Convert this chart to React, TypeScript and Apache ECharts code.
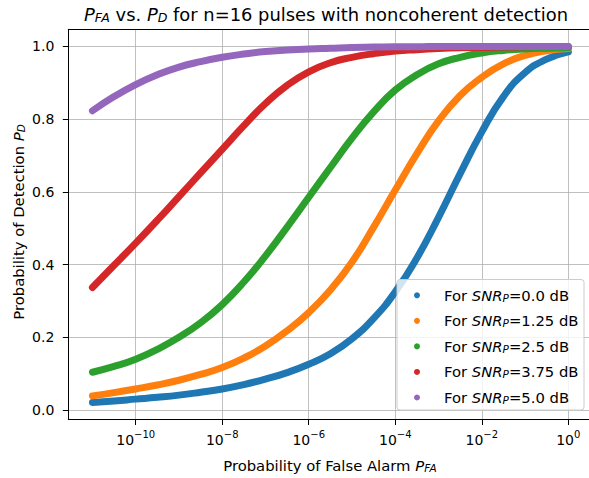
import React, { useEffect, useRef } from "react";
import * as echarts from "echarts";

// log10 of the probability of false alarm (P_FA = 10^x)
const pfaExp = [-11, -10.5, -10, -9.5, -9, -8.5, -8, -7.5, -7, -6.5, -6, -5.5, -5, -4.5, -4, -3.5, -3, -2.5, -2, -1.5, -1, -0.5, 0];

const snrDb = [0.0, 1.25, 2.5, 3.75, 5.0];

const pdSnr0 = [0.021, 0.025, 0.030, 0.035, 0.041, 0.049, 0.058, 0.070, 0.085, 0.103, 0.126, 0.155, 0.196, 0.252, 0.325, 0.418, 0.530, 0.650, 0.765, 0.862, 0.928, 0.965, 0.985];
const pdSnr125 = [0.039, 0.048, 0.058, 0.069, 0.082, 0.098, 0.117, 0.143, 0.176, 0.218, 0.268, 0.330, 0.407, 0.503, 0.605, 0.705, 0.795, 0.865, 0.915, 0.952, 0.975, 0.988, 0.994];
const pdSnr25 = [0.104, 0.120, 0.140, 0.167, 0.200, 0.240, 0.290, 0.352, 0.424, 0.503, 0.585, 0.667, 0.748, 0.820, 0.880, 0.922, 0.952, 0.970, 0.982, 0.989, 0.993, 0.995, 0.996];
const pdSnr375 = [0.337, 0.398, 0.459, 0.522, 0.587, 0.652, 0.717, 0.782, 0.843, 0.893, 0.930, 0.955, 0.970, 0.980, 0.987, 0.991, 0.994, 0.996, 0.997, 0.998, 0.999, 1.0, 1.0];
const pdSnr5 = [0.823, 0.862, 0.895, 0.922, 0.943, 0.958, 0.970, 0.979, 0.986, 0.990, 0.993, 0.995, 0.997, 0.998, 0.999, 0.999, 1.0, 1.0, 1.0, 1.0, 1.0, 1.0, 1.0];

const pdSeries = [pdSnr0, pdSnr125, pdSnr25, pdSnr375, pdSnr5];
const colors = ["#1f77b4", "#ff7f0e", "#2ca02c", "#d62728", "#9467bd"];

const xTickExps = [-10, -8, -6, -4, -2, 0];
const yTicks = [0.0, 0.2, 0.4, 0.6, 0.8, 1.0];

const FONT = "DejaVu Sans";
const FS = 14.8;
const FS_SUB = 10.5;

function snrLabel(v: number) {
  return Number.isInteger(v) ? v.toFixed(1) : String(v);
}

export default function App() {
  const ref = useRef<HTMLDivElement>(null);

  useEffect(() => {
    if (!ref.current) return;
    const chart = echarts.init(ref.current, null, { renderer: "svg" });
    const names = snrDb.map((s) => `For SNR_P=${snrLabel(s)} dB`);

    const series = pdSeries.map((pd, k) => ({
      name: names[k],
      type: "line",
      data: pfaExp.map((x, i) => [x, pd[i]]),
      showSymbol: false,
      symbol: "circle",
      smooth: 0.5,
      color: colors[k],
      lineStyle: { width: 7, color: colors[k], cap: "round", join: "round" },
      itemStyle: { color: colors[k] },
      z: 2 + k * 0.01,
    }));

    const xMin = -11.558;
    const xMax = 0.55;

    chart.setOption({
      animation: false,
      grid: {
        left: 68.3,
        right: -3.1,
        top: 29.3,
        bottom: 58.5,
        containLabel: false,
        outerBoundsMode: "none",
      },
      xAxis: [
        {
          type: "value",
          min: xMin,
          max: xMax,
          position: "bottom",
          axisLine: { show: true, onZero: false, lineStyle: { color: "#000", width: 1 } },
          axisTick: { show: true, length: 5.5, customValues: xTickExps, lineStyle: { color: "#000", width: 1 } },
          axisLabel: {
            show: true,
            customValues: xTickExps,
            margin: 12,
            color: "#000",
            fontFamily: FONT,
            formatter: (v: number) =>
              `{b|10}{s|${v === 0 ? "0" : "\u2212" + Math.abs(v)}}`,
            rich: {
              b: { fontSize: 14, fontFamily: FONT, color: "#000", lineHeight: 16 },
              s: { fontSize: 10, fontFamily: FONT, color: "#000", lineHeight: 12, padding: [0, 0, 10.5, 0] },
            },
          },
          splitLine: { show: true, lineStyle: { color: "#b0b0b0", width: 0.8 } },
        },
        {
          type: "value",
          min: xMin,
          max: xMax,
          position: "top",
          axisLine: { show: true, onZero: false, lineStyle: { color: "#000", width: 1 } },
          axisTick: { show: false },
          axisLabel: { show: false },
          splitLine: { show: false },
        },
      ],
      yAxis: {
        type: "value",
        min: -0.026,
        max: 1.047,
        axisLine: { show: true, onZero: false, lineStyle: { color: "#000", width: 1 } },
        axisTick: { show: true, length: 5.5, customValues: yTicks, lineStyle: { color: "#000", width: 1 } },
        axisLabel: {
          show: true,
          customValues: yTicks,
          margin: 14,
          color: "#000",
          fontSize: 14,
          fontFamily: FONT,
          formatter: (v: number) => v.toFixed(1),
        },
        splitLine: { show: true, lineStyle: { color: "#b0b0b0", width: 0.8 } },
      },
      legend: {
        orient: "vertical",
        left: 414,
        top: 287.3,
        padding: 0,
        itemGap: 9.55,
        itemWidth: 6,
        itemHeight: 6,
        icon: "circle",
        z: 10,
        data: names,
        formatter: (name: string) => {
          const k = names.indexOf(name);
          return `{g|For }{i|SNR}{s|P}{f|=${snrLabel(snrDb[k])} dB}`;
        },
        textStyle: {
          fontSize: FS,
          fontFamily: FONT,
          color: "#000",
          lineHeight: 14,
          rich: {
            g: { fontSize: FS, fontFamily: FONT, color: "#000", lineHeight: 14, padding: [0, 0, 0, 19] },
            f: { fontSize: FS, fontFamily: FONT, color: "#000", lineHeight: 14 },
            i: { fontSize: FS, fontFamily: FONT, fontStyle: "italic", color: "#000", lineHeight: 14 },
            s: { fontSize: FS_SUB, fontFamily: FONT, fontStyle: "italic", color: "#000", lineHeight: 10, padding: [5, 0, 0, 0] },
          },
        },
      },
      graphic: [
        {
          type: "rect",
          z: 9,
          shape: { x: 397, y: 279.5, width: 187, height: 130.5, r: 3 },
          style: { fill: "rgba(255,255,255,0.8)", stroke: "#cccccc", lineWidth: 1 },
        },
        {
          type: "text",
          x: 326,
          y: 14,
          z: 10,
          style: {
            text: "{i|P}{s|FA}{n| vs. }{i|P}{s|D}{n| for n=16 pulses with noncoherent detection}",
            align: "center",
            verticalAlign: "middle",
            fill: "#000",
            rich: {
              i: { fontSize: 17.9, fontFamily: FONT, fontStyle: "italic", fill: "#000", lineHeight: 20 },
              s: { fontSize: 12.6, fontFamily: FONT, fontStyle: "italic", fill: "#000", lineHeight: 14, padding: [6, 0, 0, 0] },
              n: { fontSize: 17.9, fontFamily: FONT, fill: "#000", lineHeight: 20 },
            },
          },
        },
        {
          type: "text",
          x: 330,
          y: 465,
          z: 10,
          style: {
            text: "{n|Probability of False Alarm }{i|P}{s|FA}",
            align: "center",
            verticalAlign: "middle",
            fill: "#000",
            rich: {
              n: { fontSize: FS, fontFamily: FONT, fill: "#000", lineHeight: 16 },
              i: { fontSize: FS, fontFamily: FONT, fontStyle: "italic", fill: "#000", lineHeight: 16 },
              s: { fontSize: FS_SUB, fontFamily: FONT, fontStyle: "italic", fill: "#000", lineHeight: 11, padding: [5, 0, 0, 0] },
            },
          },
        },
        {
          type: "text",
          x: 18,
          y: 222,
          rotation: Math.PI / 2,
          z: 10,
          style: {
            text: "{n|Probability of Detection }{i|P}{s|D}",
            align: "center",
            verticalAlign: "middle",
            fill: "#000",
            rich: {
              n: { fontSize: FS, fontFamily: FONT, fill: "#000", lineHeight: 16 },
              i: { fontSize: FS, fontFamily: FONT, fontStyle: "italic", fill: "#000", lineHeight: 16 },
              s: { fontSize: FS_SUB, fontFamily: FONT, fontStyle: "italic", fill: "#000", lineHeight: 11, padding: [5, 0, 0, 0] },
            },
          },
        },
      ],
      series,
    });

    return () => chart.dispose();
  }, []);

  return (
    <div
      ref={ref}
      style={{ position: "absolute", left: 0, top: 0, width: 589, height: 478 }}
    />
  );
}
